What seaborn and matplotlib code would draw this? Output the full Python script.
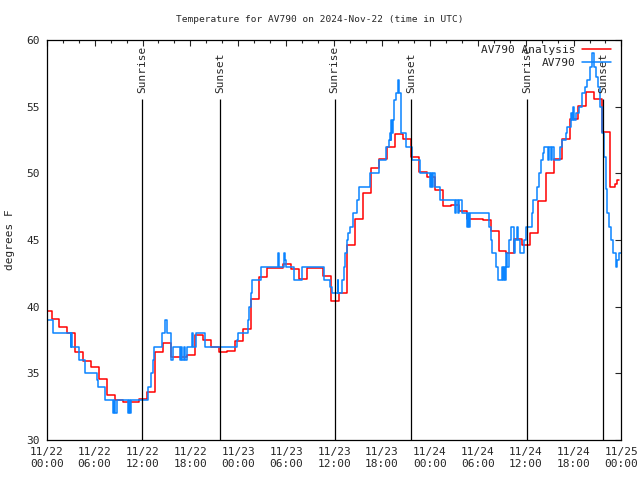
import matplotlib
matplotlib.use("Agg")
import matplotlib.pyplot as plt
import matplotlib.dates as mdates
import pandas as pd
import seaborn as sns

START = pd.Timestamp("2024-11-22 00:00")
END = pd.Timestamp("2024-11-25 00:00")

# hourly analysis, each value holds from hh:36 to the next hh:36
analysis_first = "2024-11-21 23:36"
analysis_temps = [
    39.65, 39.1, 38.5, 38.0, 36.6, 35.95, 35.45, 34.6, 33.4, 33.0, 32.85, 32.85,
    33.05, 33.6, 36.6, 37.25, 36.2, 36.2, 36.4, 37.9, 37.5, 36.95, 36.6, 36.7,
    37.4, 38.3, 40.55, 42.2, 42.9, 42.9, 43.2, 42.8, 42.05, 42.9, 42.9, 42.3,
    40.45, 41.0, 44.6, 46.55, 48.55, 50.4, 51.05, 52.0, 52.95, 52.6, 51.2, 50.1,
    49.7, 48.75, 47.55, 47.6, 47.2, 46.6, 46.6, 46.5, 45.7, 44.2, 44.0, 45.05,
    44.6, 45.55, 47.9, 50.05, 51.05, 52.55, 54.05, 55.05, 56.1, 55.6, 53.1, 49.0,
]
analysis_tail_times = ["2024-11-24 23:15", "2024-11-24 23:30", "2024-11-24 23:42"]
analysis_tail_temps = [49.2, 49.5, 49.5]

# observations: hours after 11/22 00:00 where the reading changes
obs_hours = [
    0.0, 0.8, 3.0, 3.1, 3.15, 4.05, 4.85, 6.3, 6.45, 7.3, 8.3, 8.45, 8.5, 8.75,
    10.2, 10.35, 10.45, 10.55, 12.72, 13.05, 13.35, 13.47, 14.39, 14.81, 15.1,
    15.56, 15.86, 16.69, 16.86, 16.99, 17.2, 17.3, 17.53, 18.16, 18.28, 18.7,
    19.83, 23.8, 24.0, 25.2, 25.4, 25.55, 25.75, 26.85, 28.95, 29.05, 29.75,
    29.85, 29.95, 31.0, 31.96, 34.68, 35.5, 35.72, 36.43, 36.55, 36.98, 37.2,
    37.4, 37.6, 37.8, 38.0, 38.4, 38.9, 39.1, 40.5, 41.6, 42.5, 42.9, 43.0,
    43.1, 43.15, 43.3, 43.35, 43.5, 43.75, 44.0, 44.15, 44.35, 45.05, 45.8,
    46.75, 48.05, 48.15, 48.25, 48.4, 48.6, 49.3, 51.1, 51.3, 51.5, 51.6, 52.0,
    52.65, 52.8, 52.9, 53.08, 55.38, 55.6, 55.8, 56.3, 56.55, 57.0, 57.1, 57.3,
    57.4, 57.6, 57.7, 57.9, 58.2, 58.5, 58.7, 58.9, 59.0, 59.35, 59.85, 60.1,
    60.8, 60.94, 61.44, 61.65, 61.94, 62.2, 62.36, 62.8, 62.9, 63.2, 63.3,
    63.53, 64.29, 64.58, 65.0, 65.2, 65.63, 65.8, 65.9, 66.04, 66.3, 66.67,
    67.09, 67.38, 67.72, 68.05, 68.35, 68.55, 68.81, 69.06, 69.31, 69.56,
    69.81, 70.02, 70.23, 70.44, 70.73, 70.98, 71.27, 71.48, 71.7, 71.95,
]
obs_temps = [
    39, 38, 37, 38, 37, 36, 35, 34.5, 34, 33, 32, 33, 32, 33,
    32, 33, 32, 33, 34, 35, 36, 37, 38, 39, 38,
    36, 37, 36, 37, 36, 37, 36, 37, 38, 37, 38,
    37, 37.5, 38, 39, 40, 41, 42, 43, 44, 43, 44,
    43.5, 43, 42, 43, 42, 41.5, 41, 42, 41, 42, 43,
    44, 45, 45.5, 46, 47, 48, 49, 50, 51, 52, 52.5, 53,
    52.5, 54, 53, 54, 55.5, 56, 57, 56, 53, 52, 51,
    50, 49, 50, 49, 50, 49, 48, 47, 48, 47, 48, 47,
    46, 47, 46, 47, 46, 45, 44, 43, 42, 43, 42, 43,
    42, 44, 43, 45, 46, 44, 45, 46, 45, 44, 45, 46,
    47, 48, 49, 50, 51, 51.5, 52, 51, 52, 51, 52,
    51, 52, 52.5, 53, 53.5, 54.5, 54, 55, 54, 54.5, 55,
    56, 56.5, 57, 58, 59, 58, 57.2, 56.5, 55, 53,
    51.2, 48.8, 47, 46, 45, 44, 43, 43.5, 44, 44,
]

sunrise_times = ["2024-11-22 11:59", "2024-11-23 12:05", "2024-11-24 12:09"]
sunset_times = ["2024-11-22 21:46", "2024-11-23 21:41", "2024-11-24 21:45"]

analysis = pd.DataFrame({
    "time": list(pd.date_range(analysis_first, periods=len(analysis_temps), freq="h"))
    + list(pd.to_datetime(analysis_tail_times)),
    "temp": analysis_temps + analysis_tail_temps,
})
obs = pd.DataFrame({
    "time": START + pd.to_timedelta(obs_hours, unit="h"),
    "temp": obs_temps,
})

sns.set_style("white")
plt.rcParams["font.family"] = ["DejaVu Sans Mono"]
plt.rcParams["font.size"] = 8

fig = plt.figure(figsize=(6.4, 4.8), dpi=100)
ax = fig.add_axes([0.073, 0.0833, 0.898, 0.8334])

sns.lineplot(data=analysis, x="time", y="temp", drawstyle="steps-post",
             color="#ff0000", lw=1.1, estimator=None, label="AV790 Analysis", ax=ax)
sns.lineplot(data=obs, x="time", y="temp", drawstyle="steps-post",
             color="#0a84ff", lw=1.1, estimator=None, label="AV790", ax=ax)

for name, times in [("Sunrise", sunrise_times), ("Sunset", sunset_times)]:
    for t in pd.to_datetime(times):
        ax.vlines(t, 30, 55.6, color="black", lw=0.9)
        ax.text(t, 56.0, name, rotation=90, ha="center", va="bottom", fontsize=8)

ax.set_xlim(START, END)
ax.set_ylim(30, 60)
ax.set_yticks(range(30, 61, 5))
ax.xaxis.set_major_locator(mdates.HourLocator(byhour=[0, 6, 12, 18]))
ax.xaxis.set_minor_locator(mdates.HourLocator(byhour=range(0, 24, 2)))
ax.xaxis.set_major_formatter(mdates.DateFormatter("%m/%d\n%H:%M"))
ax.tick_params(which="both", direction="in", top=True, right=True, width=0.8)
ax.tick_params(which="major", length=4, pad=5)
ax.tick_params(which="minor", length=2.2)
for s in ax.spines.values():
    s.set_linewidth(0.9)
    s.set_color("black")

ax.set_xlabel("")
ax.set_ylabel("degrees F", labelpad=8)
fig.text(0.5, 1 - 19 / 480, "Temperature for AV790 on 2024-Nov-22 (time in UTC)",
         ha="center", va="center", fontsize=6.8)

ax.legend(loc="upper right", bbox_to_anchor=(0.99, 1.0), frameon=False,
          markerfirst=False, handlelength=2.6, handletextpad=0.6,
          labelspacing=0.3, borderaxespad=0.05, fontsize=8)

fig.savefig("out.png", dpi=100)
